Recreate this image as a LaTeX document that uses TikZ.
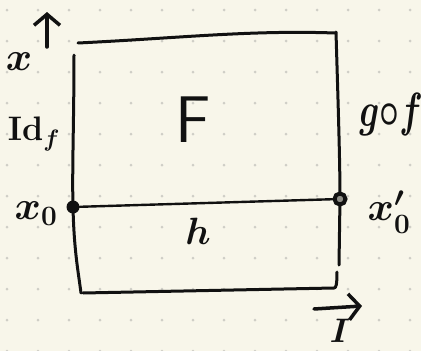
\RequirePackage{fix-cm}
\documentclass[tikz,border=0pt]{standalone}
\usepackage{amsmath}
\usepackage{graphicx}
\usetikzlibrary{arrows.meta}
\definecolor{paper}{HTML}{F8F6EA}
\definecolor{griddot}{HTML}{CFCEC6}
\definecolor{ink}{HTML}{111111}
\tikzset{
  pen/.style={draw=ink, line width=3pt, line cap=round, line join=round},
  thinpen/.style={draw=ink, line width=2.4pt, line cap=round},
  lab/.style={text=ink, inner sep=0pt, font=\fontsize{40}{40}\selectfont\boldmath},
  biglab/.style={text=ink, inner sep=0pt, font=\fontsize{66}{66}\selectfont\sffamily},
  arr/.style={draw=ink, line width=3.5pt, line cap=round, -{Straight Barb[length=11pt,width=26pt,line width=3.5pt]}},
}
\begin{document}
\begin{tikzpicture}[x=1pt,y=-1pt]
\fill[paper] (0,0) rectangle (421,351);
\useasboundingbox (0,0) rectangle (421,351);
\foreach \i in {0,...,13}{
  \foreach \j in {0,...,11}{
    \fill[griddot] ({7+31*\i},{10+31*\j}) circle (1.5pt);
  }
}
% corners
\coordinate (tl) at (78,43);
\coordinate (tr) at (335,33);
\coordinate (rt) at (336,32);
\coordinate (rm) at (340,199);
\coordinate (rb) at (339,265);
\coordinate (br) at (334,288);
\coordinate (bl) at (83,293);
\coordinate (lb) at (81,293);
\coordinate (lm) at (73,207);
\coordinate (lt) at (74,55);
% box
\draw[pen] (tl) .. controls (180,38) and (250,30) .. (tr);
\draw[pen] (rt) .. controls (338,100) and (340,160) .. (rm) -- (rb);
\draw[pen] (337,272) .. controls (337,285) and (336,288) .. (br) -- (bl);
\draw[pen] (lt) .. controls (74,120) and (72,170) .. (lm) .. controls (74,250) and (78,270) .. (lb);
% middle path h
\node[circle, fill=ink, minimum size=13pt, inner sep=0pt] (x0) at (lm) {};
\node[circle, draw=ink, line width=4pt, fill=ink!45!paper, minimum size=11pt, inner sep=0pt] (x1) at (rm) {};
\draw[thinpen] (x0) -- (x1);
% axis arrows
\coordinate (xa) at (47,47);
\coordinate (xb) at (47,12);
\draw[arr] (xa) -- (xb);
\coordinate (ia) at (314,309);
\coordinate (ib) at (362,306);
\draw[arr] (ia) -- (ib);
% labels
\node[lab] (lx) at (19,62) {$x$};
\node[lab, font=\fontsize{34}{34}\selectfont\boldmath] (lid) at (34,134) {$\mathrm{Id}_f$};
\node[biglab] (lF) at (193,120) {F};
\node[lab, font=\fontsize{48}{48}\selectfont\boldmath] (lgf) at (391,114) {\scalebox{0.72}[1]{$g{\circ} f$}};
\node[lab] (lx0) at (36,214) {$x_0$};
\node[lab] (lx1) at (389,212) {$x_0'$};
\node[lab, font=\fontsize{38}{38}\selectfont\boldmath] (lh) at (198,231) {$h$};
\node[lab, font=\fontsize{34}{34}\selectfont\boldmath] (lI) at (340,331) {$I$};
\end{tikzpicture}
\end{document}
